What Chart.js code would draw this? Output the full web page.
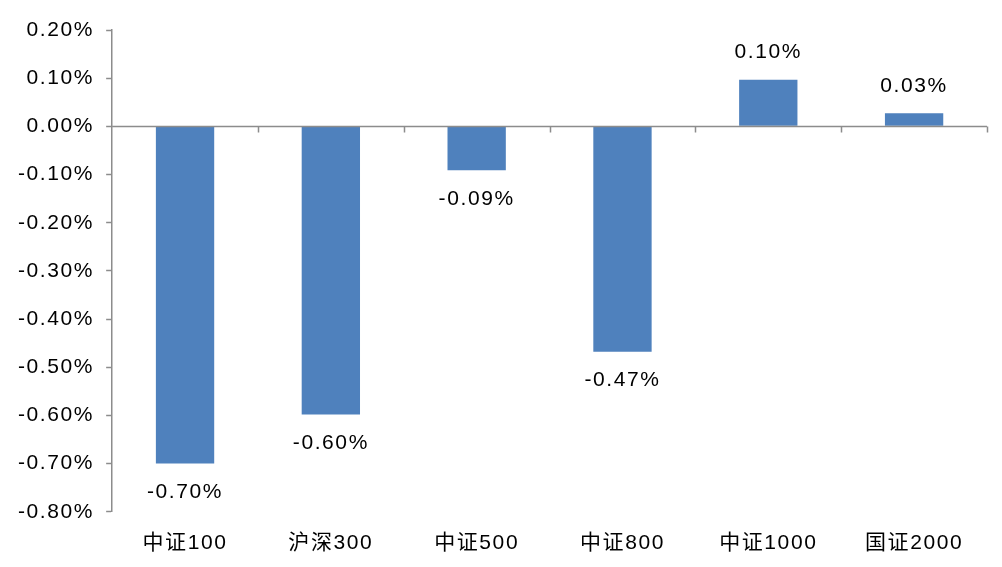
<!DOCTYPE html>
<html><head><meta charset="utf-8">
<script src="https://cdn.jsdelivr.net/npm/chart.js@4"></script>
<style>html,body{margin:0;padding:0;background:#fff}#wrap{width:1002px;height:567px}</style>
</head><body><div id="wrap"><canvas id="c" width="1002" height="567"></canvas></div>
<script>
const categories = ['中证100','沪深300','中证500','中证800','中证1000','国证2000'];
const values = [-0.70, -0.598, -0.091, -0.468, 0.097, 0.027];
const valueLabels = ['-0.70%','-0.60%','-0.09%','-0.47%','0.10%','0.03%'];
const yMin = -0.8, yMax = 0.2, yStep = 0.1;
const FONT = '"Liberation Sans", Arial, "Noto Sans CJK SC", sans-serif';
const SPACING = '1.6px';

const spacingPlugin = {
  id: 'spacing',
  beforeUpdate(chart) { chart.ctx.letterSpacing = SPACING; },
  beforeDraw(chart) { chart.ctx.letterSpacing = SPACING; }
};

const axisDeco = {
  id: 'axisDeco',
  afterDatasetsDraw(chart) {
    const {ctx, scales:{x, y}} = chart;
    const y0 = Math.round(y.getPixelForValue(0)) + 0.5;
    ctx.save();
    ctx.strokeStyle = '#8c8c8c';
    ctx.lineWidth = 1.5;
    ctx.beginPath();
    ctx.moveTo(x.left, y0); ctx.lineTo(x.right, y0);
    const n = categories.length;
    for (let i = 1; i <= n; i++) {
      const px = Math.round(x.left + (x.right - x.left) * i / n) + 0.5;
      ctx.moveTo(px, y0); ctx.lineTo(px, y0 + 6);
    }
    ctx.stroke();
    const meta = chart.getDatasetMeta(0);
    ctx.fillStyle = '#000';
    ctx.font = '21px ' + FONT;
    ctx.letterSpacing = SPACING;
    ctx.textAlign = 'center';
    meta.data.forEach((bar, i) => {
      const v = values[i];
      if (v < 0) { ctx.textBaseline = 'top'; ctx.fillText(valueLabels[i], bar.x, bar.y + 18); }
      else { ctx.textBaseline = 'bottom'; ctx.fillText(valueLabels[i], bar.x, bar.y - 17); }
    });
    ctx.restore();
  }
};

new Chart(document.getElementById('c'), {
  type: 'bar',
  data: { labels: categories, datasets: [{ data: values, backgroundColor: '#4F81BD', borderWidth: 0, categoryPercentage: 1, barPercentage: 0.4 }] },
  options: {
    responsive: false, animation: false,
    layout: { padding: { top: 30, right: 15, left: 6, bottom: 0 } },
    plugins: { legend: { display: false }, tooltip: { enabled: false } },
    scales: {
      x: {
        grid: { display: false },
        border: { display: false },
        ticks: { color: '#000', font: { size: 21, family: FONT }, padding: 11, maxRotation: 0 }
      },
      y: {
        min: yMin, max: yMax,
        grid: { drawOnChartArea: false, color: '#8c8c8c', tickLength: 6, tickWidth: 1.5 },
        border: { color: '#8c8c8c', width: 1.5 },
        ticks: { stepSize: yStep, color: '#000', font: { size: 21, family: FONT }, padding: 12,
          callback: v => (Math.abs(v) < 1e-9 ? 0 : v).toFixed(2) + '%' }
      }
    }
  },
  plugins: [spacingPlugin, axisDeco]
});
</script></body></html>
